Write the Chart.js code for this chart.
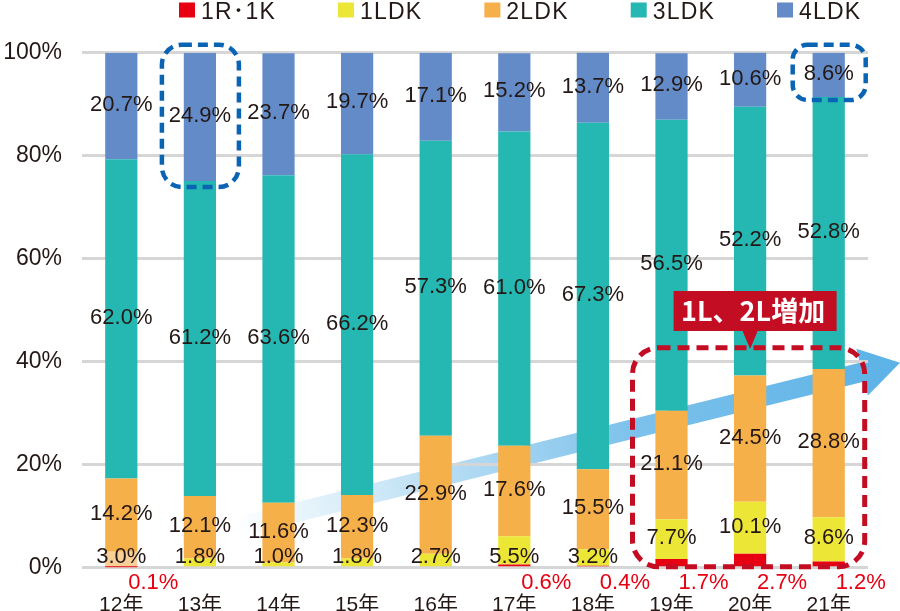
<!DOCTYPE html>
<html><head><meta charset="utf-8">
<script src="https://cdn.jsdelivr.net/npm/chart.js@4/dist/chart.umd.min.js"></script>
<style>html,body{margin:0;padding:0;background:#fff;}#wrap{width:900px;height:611px;position:relative;}</style>
</head><body><div id="wrap"><canvas id="c" width="900" height="611"></canvas></div>
<script>
// ---- data ----
const categories = ['12年','13年','14年','15年','16年','17年','18年','19年','20年','21年'];
const seriesNames = ['1R･1K','1LDK','2LDK','3LDK','4LDK'];
const r1k  = [0.1, 0, 0, 0, 0, 0.6, 0.4, 1.7, 2.7, 1.2];
const ldk1 = [3.0, 1.8, 1.0, 1.8, 2.7, 5.5, 3.2, 7.7, 10.1, 8.6];
const ldk2 = [14.2, 12.1, 11.6, 12.3, 22.9, 17.6, 15.5, 21.1, 24.5, 28.8];
const ldk3 = [62.0, 61.2, 63.6, 66.2, 57.3, 61.0, 67.3, 56.5, 52.2, 52.8];
const ldk4 = [20.7, 24.9, 23.7, 19.7, 17.1, 15.2, 13.7, 12.9, 10.6, 8.6];
const yTicks = [0, 20, 40, 60, 80, 100];
const calloutText = '1L、2L増加';

// ---- styles ----
const TEXT = '#231815';
const RED_TXT = '#e60012';
const COLORS = ['#e60012', '#ece736', '#f5b04a', '#25b7b2', '#628bc8'];
const LATIN = '"Liberation Sans", Arial, "Noto Sans CJK JP", sans-serif';

const ldk1Colors = ldk1.map((v, i) => i === 0 ? '#f8cf96' : COLORS[1]);
const seriesData = [r1k, ldk1, ldk2, ldk3, ldk4];

const datasets = seriesData.map((d, i) => ({
  label: seriesNames[i],
  data: d,
  backgroundColor: i === 1 ? ldk1Colors : COLORS[i],
  legendColor: COLORS[i],
  borderWidth: 0,
  barPercentage: 0.41,
  categoryPercentage: 1.0
}));

const legendPlugin = {
  id: 'customLegend',
  afterDraw(chart) {
    const ctx = chart.ctx; ctx.save();
    ctx.font = '23px ' + LATIN;
    try { ctx.letterSpacing = '1.2px'; } catch (e) {}
    ctx.textBaseline = 'alphabetic'; ctx.textAlign = 'left';
    let x = 179;
    chart.data.datasets.forEach(ds => {
      ctx.fillStyle = ds.legendColor;
      ctx.fillRect(x, 2.5, 16, 15);
      ctx.fillStyle = TEXT;
      ctx.fillText(ds.label, x + 22, 19);
      x += 22 + ctx.measureText(ds.label).width + 62;
    });
    ctx.restore();
  }
};

const arrowPlugin = {
  id: 'arrow',
  beforeDraw(chart) {
    const ctx = chart.ctx, xs = chart.scales.x, ys = chart.scales.y;
    const sx = xs.getPixelForValue(1) + 35, sy = ys.getPixelForValue(7.8);
    const tx = chart.width, ty = ys.getPixelForValue(39.8);
    const dx = tx - sx, dy = ty - sy, L = Math.hypot(dx, dy);
    const ux = dx / L, uy = dy / L, nx = -uy, ny = ux;
    const hw = 9.7, hh = 24, hl = 39;
    const bx = tx - ux * hl, by = ty - uy * hl;
    ctx.save();
    const g = ctx.createLinearGradient(sx, sy, tx, ty);
    g.addColorStop(0, 'rgba(92,178,230,0)');
    g.addColorStop(0.3, 'rgba(92,178,230,0.42)');
    g.addColorStop(0.6, 'rgba(92,178,230,0.8)');
    g.addColorStop(1, 'rgba(92,178,230,1)');
    ctx.fillStyle = g;
    ctx.beginPath();
    ctx.moveTo(sx + nx * hw, sy + ny * hw);
    ctx.lineTo(bx + nx * hw, by + ny * hw);
    ctx.lineTo(bx + nx * hh, by + ny * hh);
    ctx.lineTo(tx, ty);
    ctx.lineTo(bx - nx * hh, by - ny * hh);
    ctx.lineTo(bx - nx * hw, by - ny * hw);
    ctx.lineTo(sx - nx * hw, sy - ny * hw);
    ctx.closePath(); ctx.fill();
    ctx.restore();
  }
};

const labelPlugin = {
  id: 'labels',
  afterDatasetsDraw(chart) {
    const ctx = chart.ctx, ys = chart.scales.y;
    ctx.save();
    ctx.font = '22px ' + LATIN;
    ctx.textAlign = 'center'; ctx.textBaseline = 'middle';
    for (let i = 1; i < 5; i++) {
      const meta = chart.getDatasetMeta(i);
      meta.data.forEach((bar, j) => {
        const v = chart.data.datasets[i].data[j];
        let y = (bar.y + bar.base) / 2 - 1;
        if (i === 1 && v < 6) y = ys.bottom - 11;
        ctx.fillStyle = TEXT;
        ctx.fillText(v.toFixed(1) + '%', bar.x, y);
      });
    }
    const m0 = chart.getDatasetMeta(0);
    m0.data.forEach((bar, j) => {
      const v = chart.data.datasets[0].data[j];
      if (v > 0) {
        ctx.fillStyle = RED_TXT;
        ctx.fillText(v.toFixed(1) + '%', bar.x + 32, ys.bottom + 15);
      }
    });
    ctx.restore();
  }
};

function rr(ctx, x1, y1, x2, y2, r) {
  ctx.beginPath();
  ctx.moveTo(x1 + r, y1);
  ctx.lineTo(x2 - r, y1); ctx.arcTo(x2, y1, x2, y1 + r, r);
  ctx.lineTo(x2, y2 - r); ctx.arcTo(x2, y2, x2 - r, y2, r);
  ctx.lineTo(x1 + r, y2); ctx.arcTo(x1, y2, x1, y2 - r, r);
  ctx.lineTo(x1, y1 + r); ctx.arcTo(x1, y1, x1 + r, y1, r);
  ctx.closePath();
}

const annoPlugin = {
  id: 'anno',
  afterDraw(chart) {
    const ctx = chart.ctx, ys = chart.scales.y;
    const m4 = chart.getDatasetMeta(4);
    ctx.save();
    ctx.strokeStyle = '#0a64b4'; ctx.lineWidth = 4.5; ctx.setLineDash([10, 6]);
    let b = m4.data[1];
    rr(ctx, b.x - 38, b.y - 8, b.x + 39, b.base + 6, 20); ctx.stroke();
    b = m4.data[9];
    rr(ctx, b.x - 36, b.y - 8, b.x + 37, b.base + 3, 15); ctx.stroke();
    const m0 = chart.getDatasetMeta(0);
    const b19 = m0.data[7], b21 = m0.data[9], b20 = m0.data[8];
    ctx.strokeStyle = '#c30d23'; ctx.lineWidth = 5; ctx.setLineDash([12, 7]);
    rr(ctx, b19.x - 39, ys.getPixelForValue(42.7), b21.x + 36, ys.bottom - 1, 26); ctx.stroke();
    ctx.setLineDash([]);
    const cx = b20.x + 5;
    ctx.fillStyle = '#c30d23';
    ctx.fillRect(cx - 81.5, 291, 163, 40);
    ctx.beginPath();
    ctx.moveTo(b20.x - 8, 330); ctx.lineTo(b20.x + 8, 330); ctx.lineTo(b20.x, 349); ctx.closePath(); ctx.fill();
    ctx.fillStyle = '#ffffff';
    ctx.font = 'bold 27px "Noto Sans CJK JP", sans-serif';
    ctx.textAlign = 'center'; ctx.textBaseline = 'middle';
    ctx.fillText(calloutText, cx - 2, 311);
    ctx.restore();
  }
};

new Chart(document.getElementById('c'), {
  type: 'bar',
  data: { labels: categories, datasets },
  options: {
    responsive: false, animation: false, devicePixelRatio: 1,
    layout: { padding: { top: 52.7, right: 32, left: 0, bottom: 0 } },
    plugins: { legend: { display: false }, tooltip: { enabled: false } },
    scales: {
      x: {
        stacked: true,
        grid: { display: false, drawTicks: false },
        border: { display: false },
        ticks: { color: TEXT, font: { size: 21, family: LATIN }, padding: 25, maxRotation: 0 },
        afterFit(s) { s.height = 43.3; }
      },
      y: {
        stacked: true, min: 0, max: 100,
        afterBuildTicks(s) { s.ticks = yTicks.map(v => ({ value: v })); },
        grid: { color: '#d6d6d6', lineWidth: 3, drawTicks: false },
        border: { display: false },
        ticks: { color: TEXT, font: { size: 23, family: LATIN }, padding: 20, callback: v => v + '%' },
        afterFit(s) { s.width = 82; }
      }
    }
  },
  plugins: [arrowPlugin, labelPlugin, annoPlugin, legendPlugin]
});
</script></body></html>
